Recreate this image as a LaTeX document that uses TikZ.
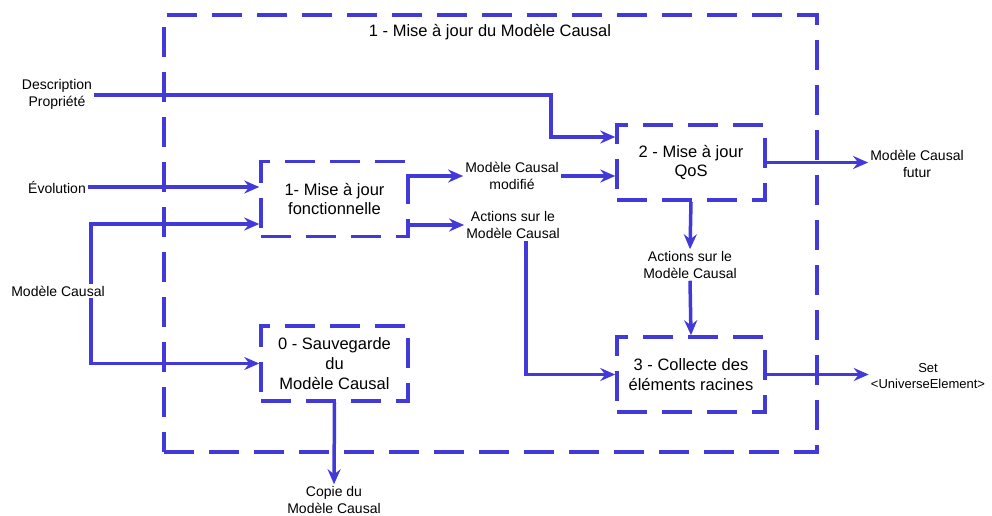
\documentclass[tikz,border=0pt]{standalone}
\usepackage{fontspec}
\setmainfont{Liberation Sans}
\usetikzlibrary{arrows.meta}
\definecolor{bl}{RGB}{66,58,216}
\tikzset{
  dbox/.style={draw=bl, line width=3.5pt, dash pattern=on 30pt off 15pt, minimum width=147pt, minimum height=75pt, align=center, font=\fontsize{16.5}{19.8}\selectfont, inner sep=0pt},
  bigbox/.style={draw=bl, line width=3.5pt, dash pattern=on 30pt off 15pt, minimum width=653pt, minimum height=437pt, inner sep=0pt},
  lbl/.style={align=center, font=\fontsize{14}{16.8}\selectfont, inner sep=2pt},
  arr/.style={draw=bl, line width=3.5pt, -{Stealth[length=15pt,width=13pt,inset=5pt]}},
  ln/.style={draw=bl, line width=3.5pt},
}
\begin{document}
\begin{tikzpicture}[x=1pt,y=-1pt]
\useasboundingbox (0,0) rectangle (992,516);
\node[bigbox] (outer) at (490.5,233.5) {};
\node[font=\fontsize{16.5}{19.8}\selectfont] (title) at (490,32) {1 - Mise à jour du Modèle Causal};

\node[dbox] (b1) at (334.5,199) {1- Mise à jour\\fonctionnelle};
\node[dbox, minimum width=148pt] (b2) at (691,162.5) {2 - Mise à jour\\QoS};
\node[dbox] (b0) at (334.5,363.5) {0 - Sauvegarde\\du\\Modèle Causal};
\node[dbox, minimum width=148pt] (b3) at (691,374.5) {3 - Collecte des\\éléments racines};

\node[lbl] (dp) at (57,94) {Description\\Propriété};
\node[lbl] (ev) at (57,187) {Évolution};
\node[lbl] (mc) at (58,291) {Modèle Causal};
\node[lbl] (mm) at (512,176) {Modèle Causal\\modifié};
\node[lbl] (al) at (513,225) {Actions sur le\\Modèle Causal};
\node[lbl] (al2) at (690,265) {Actions sur le\\Modèle Causal};
\node[lbl] (fut) at (917,164) {Modèle Causal\\futur};
\node[lbl, font=\fontsize{13}{16}\selectfont] (set) at (928,376) {Set\\<UniverseElement>};
\node[lbl] (cp) at (334,500) {Copie du\\Modèle Causal};

\coordinate (dpc) at (551,95);
\coordinate (mcx) at (91,291);

\draw[arr] (dp.east |- dpc) -- (dpc) |- ([yshift=25.5pt]b2.west);
\draw[arr] (ev.east) -- (b1.west |- ev.east);
\draw[arr] (mc.north -| mcx) |- ([yshift=-25pt]b1.west);
\draw[arr] (mc.south -| mcx) |- (b0.west);
\draw[arr] (b1.east |- mm.west) -- (mm.west);
\draw[arr] (mm.east) -- (b2.west |- mm.east);
\draw[arr] (b1.east |- al.west) -- (al.west);
\draw[arr] ([xshift=13pt]al.south) |- (b3.west);
\draw[arr] (b2.south) -- (al2.north);
\draw[arr] (al2.south) -- (b3.north);
\draw[arr] (b2.east) -- (fut.west |- b2.east);
\draw[arr] (b3.east) -- (set.west |- b3.east);
\draw[arr] (b0.south) -- (cp.north);
\end{tikzpicture}
\end{document}
